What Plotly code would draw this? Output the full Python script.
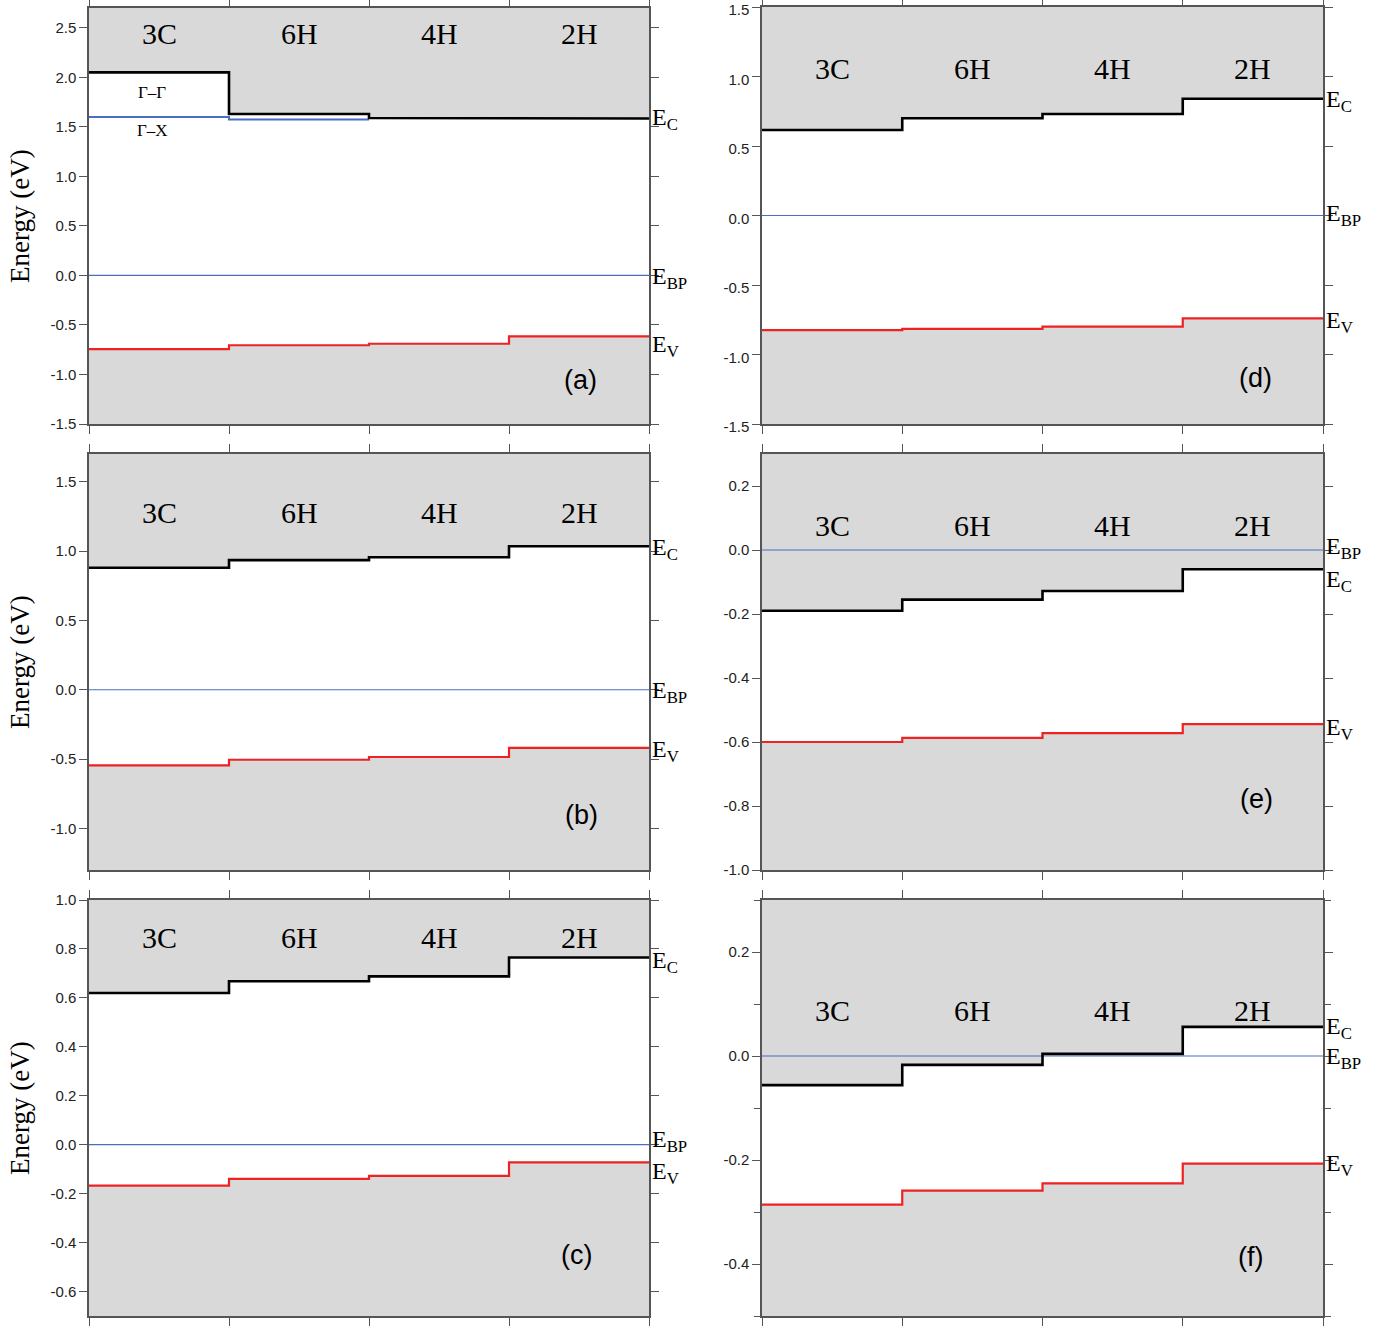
import plotly.graph_objects as go

# ---------------- data ----------------
polytypes = ["3C", "6H", "4H", "2H"]

a_ec = [2.05, 1.63, 1.59, 1.585]      # black (Gamma-Gamma for 3C)
a_gx = [1.60, 1.575]                  # blue Gamma-X (3C, 6H)
a_ev = [-0.745, -0.705, -0.69, -0.615]
b_ec = [0.88, 0.935, 0.955, 1.035]
b_ev = [-0.545, -0.505, -0.485, -0.42]
c_ec = [0.62, 0.668, 0.688, 0.765]
c_ev = [-0.167, -0.14, -0.127, -0.072]
d_ec = [0.615, 0.70, 0.73, 0.84]
d_ev = [-0.825, -0.815, -0.80, -0.74]
e_ec = [-0.19, -0.155, -0.128, -0.06]
e_ev = [-0.60, -0.587, -0.572, -0.544]
f_ec = [-0.056, -0.017, 0.004, 0.056]
f_ev = [-0.286, -0.259, -0.245, -0.207]
ebp = [0.0, 0.0, 0.0, 0.0]

ticks_a = [-1.5, -1.0, -0.5, 0.0, 0.5, 1.0, 1.5, 2.0, 2.5]
ticks_b = [-1.0, -0.5, 0.0, 0.5, 1.0, 1.5]
ticks_c = [-0.6, -0.4, -0.2, 0.0, 0.2, 0.4, 0.6, 0.8, 1.0]
ticks_d = [-1.5, -1.0, -0.5, 0.0, 0.5, 1.0, 1.5]
ticks_e = [-1.0, -0.8, -0.6, -0.4, -0.2, 0.0, 0.2]
ticks_f = [-0.4, -0.2, 0.0, 0.2]

# ---------------- layout config ----------------
W, H = 1398, 1326
LEFT = (89, 649)
RIGHT = (762, 1323)
ROWS = [(8, 424), (454, 870), (900, 1316)]

panels = [
    dict(tag="(a)", ec=a_ec, ev=a_ev, ticks=ticks_a, rng=[-1.5, 2.7], col=LEFT, row=ROWS[0],
         laby=2.44, letter=(0.877, 0.106), off=(0, 2, 8.5), minor=None, shift=0),
    dict(tag="(d)", ec=d_ec, ev=d_ev, ticks=ticks_d, rng=[-1.5, 1.5], col=RIGHT, row=(7, 424),
         laby=1.054, letter=(0.88, 0.11), off=(1, -1, 3), minor=None, shift=3),
    dict(tag="(b)", ec=b_ec, ev=b_ev, ticks=ticks_b, rng=[-1.3, 1.7], col=LEFT, row=ROWS[1],
         laby=1.28, letter=(0.88, 0.132), off=(2, 1, 2), minor=None, shift=0),
    dict(tag="(e)", ec=e_ec, ev=e_ev, ticks=ticks_e, rng=[-1.0, 0.3], col=RIGHT, row=ROWS[1],
         laby=0.078, letter=(0.882, 0.17), off=(11, -3, 3.5), minor=None, shift=0),
    dict(tag="(c)", ec=c_ec, ev=c_ev, ticks=ticks_c, rng=[-0.7, 1.0], col=LEFT, row=ROWS[2],
         laby=0.845, letter=(0.871, 0.147), off=(3, -5, 10), minor=None, shift=0),
    dict(tag="(f)", ec=f_ec, ev=f_ev, ticks=ticks_f, rng=[-0.5, 0.3], col=RIGHT, row=ROWS[2],
         laby=0.088, letter=(0.87, 0.142), off=(0, 1, 0), minor=0.1, shift=0),
]

GRAY = "#d9d9d9"
AXC = "#555555"
BLUE = "#4a6fbf"
RED = "#ee2222"
SERIF = "Liberation Serif, Times New Roman, serif"
SANS = "Liberation Sans, Arial, Helvetica, sans-serif"


def steps(vals):
    xs, ys = [], []
    for i, v in enumerate(vals):
        xs += [i, i + 1]
        ys += [v, v]
    return xs, ys


fig = go.Figure()
annotations = []
layout_axes = {}

for k, p in enumerate(panels, start=1):
    xa = "x" if k == 1 else f"x{k}"
    ya = "y" if k == 1 else f"y{k}"
    lo, hi = p["rng"]
    n = len(polytypes)

    # filled bands
    xs, ys = steps(p["ec"])
    fig.add_trace(go.Scatter(x=xs + [n, 0], y=ys + [hi, hi], fill="toself", fillcolor=GRAY,
                             mode="lines", line=dict(width=0), xaxis=xa, yaxis=ya,
                             hoverinfo="skip", showlegend=False))
    xv, yv = steps(p["ev"])
    fig.add_trace(go.Scatter(x=xv + [n, 0], y=yv + [lo, lo], fill="toself", fillcolor=GRAY,
                             mode="lines", line=dict(width=0), xaxis=xa, yaxis=ya,
                             hoverinfo="skip", showlegend=False))
    # branch point
    xb, yb = steps(ebp)
    fig.add_trace(go.Scatter(x=xb, y=yb, mode="lines", line=dict(color=BLUE, width=1.2),
                             xaxis=xa, yaxis=ya, showlegend=False))
    if k == 1:
        xg, yg = steps(a_gx)
        fig.add_trace(go.Scatter(x=xg, y=yg, mode="lines", line=dict(color=BLUE, width=2),
                                 xaxis=xa, yaxis=ya, showlegend=False))
    fig.add_trace(go.Scatter(x=xv, y=yv, mode="lines", line=dict(color=RED, width=2.2),
                             xaxis=xa, yaxis=ya, showlegend=False))
    fig.add_trace(go.Scatter(x=xs, y=ys, mode="lines", line=dict(color="black", width=2.6),
                             xaxis=xa, yaxis=ya, showlegend=False))

    xd = [(p["col"][0]) / W, (p["col"][1]) / W]
    yd = [1 - p["row"][1] / H, 1 - p["row"][0] / H]
    xkey = "xaxis" if k == 1 else f"xaxis{k}"
    ykey = "yaxis" if k == 1 else f"yaxis{k}"
    layout_axes[xkey] = dict(domain=xd, range=[0, n], anchor=ya, tickvals=list(range(n + 1)),
                             showticklabels=False, ticks="outside", ticklen=8, tickcolor=AXC,
                             showline=True, linecolor=AXC, linewidth=1.5, mirror="ticks",
                             showgrid=False, zeroline=False, fixedrange=True, automargin=False)
    yax = dict(domain=yd, range=[lo, hi], anchor=xa, tickvals=p["ticks"],
               ticktext=[f"{t:.1f}" for t in p["ticks"]], ticks="outside", ticklen=8,
               tickcolor=AXC, showline=True, linecolor=AXC, linewidth=1.5, mirror="ticks",
               showgrid=False, zeroline=False, tickfont=dict(family=SANS, size=15, color="#222"),
               fixedrange=True, automargin=False, ticklabeloverflow="allow",
               ticklabelshift=p["shift"])
    if p["minor"]:
        yax["minor"] = dict(dtick=p["minor"], ticks="outside", ticklen=6, tickcolor=AXC)
    layout_axes[ykey] = yax

    # polytype labels
    for i, name in enumerate(polytypes):
        annotations.append(dict(x=i + 0.5, y=p["laby"], xref=xa, yref=ya, text=name,
                                showarrow=False, font=dict(family=SERIF, size=30, color="black")))
    # panel letter
    annotations.append(dict(x=p["letter"][0], y=p["letter"][1], xref=f"{xa} domain",
                            yref=f"{ya} domain", text=p["tag"], showarrow=False,
                            xanchor="center", yanchor="middle",
                            font=dict(family=SANS, size=27, color="black")))
    # level labels
    for txt, val, off in [("E<sub>C</sub>", p["ec"][-1], p["off"][0]),
                          ("E<sub>BP</sub>", ebp[-1], p["off"][1]),
                          ("E<sub>V</sub>", p["ev"][-1], p["off"][2])]:
        annotations.append(dict(x=1, y=val, xref=f"{xa} domain", yref=ya, text=txt,
                                xanchor="left", yanchor="middle", xshift=1, yshift=-(off + 1),
                                showarrow=False, font=dict(family=SERIF, size=24, color="black")))
    # y-axis title for left column
    if p["col"] == LEFT:
        annotations.append(dict(x=20 / W, y=(yd[0] + yd[1]) / 2, xref="paper", yref="paper",
                                text="Energy (eV)", textangle=-90, showarrow=False,
                                xanchor="center", yanchor="middle",
                                font=dict(family=SERIF, size=27, color="black")))

# Gamma labels in panel (a)
annotations.append(dict(x=0.45, y=1.85, xref="x", yref="y", text="Γ–Γ", showarrow=False,
                        font=dict(family=SERIF, size=17, color="black")))
annotations.append(dict(x=0.45, y=1.46, xref="x", yref="y", text="Γ–X", showarrow=False,
                        font=dict(family=SERIF, size=17, color="black")))

fig.update_layout(width=W, height=H, margin=dict(l=0, r=0, t=0, b=0, autoexpand=False),
                  plot_bgcolor="white", paper_bgcolor="white", showlegend=False,
                  annotations=annotations, **layout_axes)

fig.write_html("out.html", config={"displayModeBar": False},
               post_script="document.body.style.margin='0';")
